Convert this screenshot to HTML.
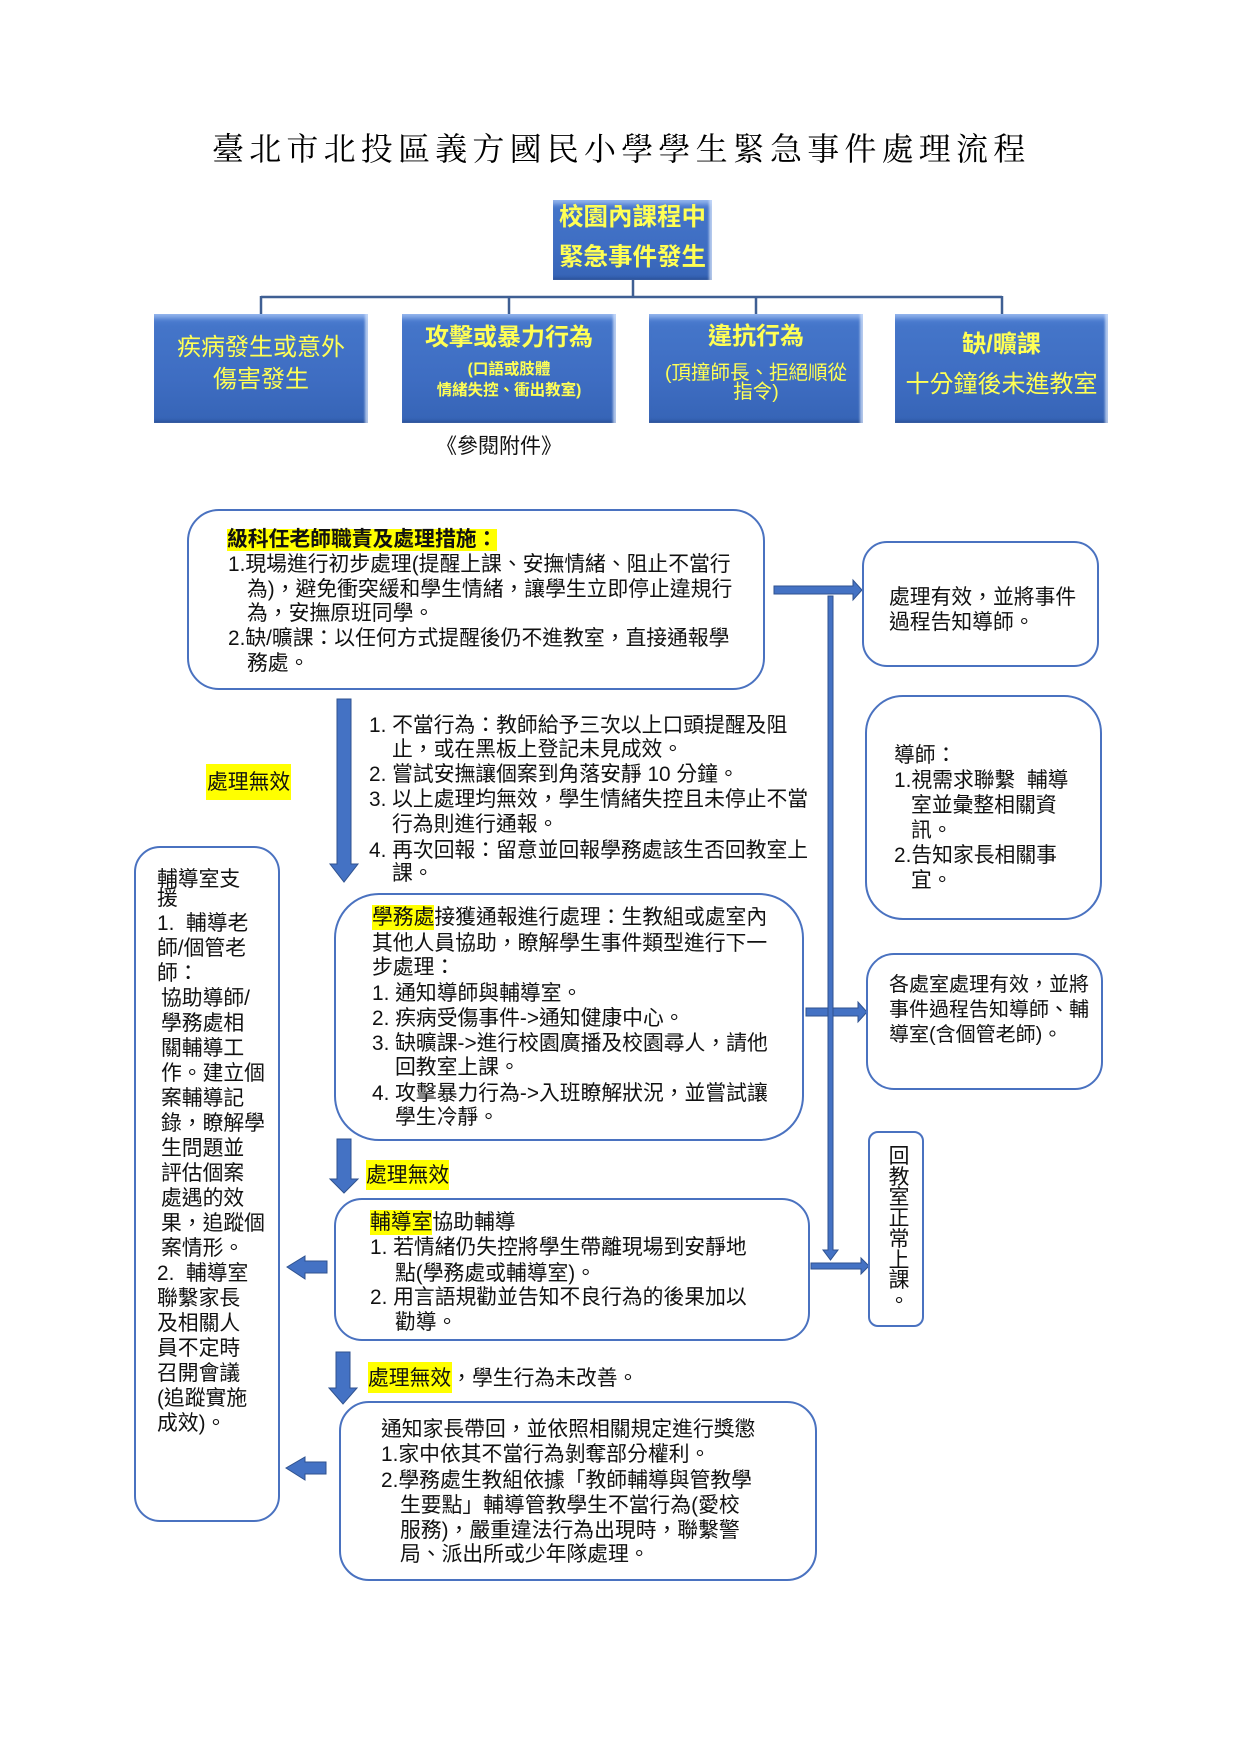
<!DOCTYPE html>
<html><head><meta charset="utf-8">
<style>
html,body{margin:0;padding:0;background:#fff;}
#pg{position:relative;width:1241px;height:1755px;overflow:hidden;background:#fff;}
.t{position:absolute;white-space:nowrap;font-family:"Liberation Sans","Noto Sans CJK TC",sans-serif;font-size:20.8px;line-height:25px;color:#111;}
.rb{position:absolute;box-sizing:border-box;border:2px solid #4a72c0;background:#fff;}
.cb{position:absolute;box-sizing:border-box;background:linear-gradient(#4f80d4 0%,#4475c9 12%,#3e6dc2 60%,#3664b6 100%);box-shadow:inset 0 7px 5px -3px rgba(200,220,255,0.55),inset -4px 0 2px -1px rgba(230,240,255,0.7),inset 0 -4px 3px -2px rgba(20,40,90,0.35);}
.ct{position:absolute;left:0;right:0;text-align:center;white-space:nowrap;font-family:"Liberation Sans","Noto Sans CJK TC",sans-serif;color:#ffff55;}
.hl{background:#ffff00;display:inline-block;line-height:25px;height:25px;}
</style></head><body><div id="pg">

<div class="t" style="left:212px;top:129px;font-family:'Liberation Serif','Noto Serif CJK SC',serif;font-size:32px;line-height:40px;letter-spacing:5.2px;color:#000;">臺北市北投區義方國民小學學生緊急事件處理流程</div>

<svg width="1241" height="1755" style="position:absolute;left:0;top:0;" xmlns="http://www.w3.org/2000/svg">
 <g stroke="#3f5f93" stroke-width="2.5" fill="none">
  <line x1="633" y1="280" x2="633" y2="297"/>
  <line x1="261" y1="297" x2="1002" y2="297"/>
  <line x1="261" y1="296" x2="261" y2="314"/>
  <line x1="509" y1="296" x2="509" y2="314"/>
  <line x1="756" y1="296" x2="756" y2="314"/>
  <line x1="1002" y1="296" x2="1002" y2="314"/>
 </g>
 <g fill="#4472c4" stroke="#2f528f" stroke-width="1">
  <polygon points="337,699 351,699 351,864 358,864 344,882 330,864 337,864"/>
  <polygon points="337,1139 351,1139 351,1179 358,1179 344,1193 330,1179 337,1179"/>
  <polygon points="336,1352 350,1352 350,1388 357,1388 343,1404 329,1388 336,1388"/>
  <polygon points="327,1261 305,1261 305,1256 287,1267 305,1279 305,1273 327,1273"/>
  <polygon points="326,1462 305,1462 305,1457 286,1468 305,1480 305,1474 326,1474"/>
  <polygon points="774,586 853,586 853,580 862,590 853,600 853,594 774,594"/>
  <polygon points="806,1008 858,1008 858,1002 867,1012 858,1022 858,1016 806,1016"/>
  <polygon points="811,1263 861,1263 861,1258 869,1266 861,1274 861,1269 811,1269"/>
  <polygon points="828,596 833,596 833,1250 838,1250 830.5,1260 823,1250 828,1250"/>
 </g>
</svg>

<div class="cb" style="left:553px;top:200px;width:159px;height:80px;"></div>
<div class="ct" style="left:553px;width:159px;right:auto;top:203px;font-size:24.5px;line-height:30px;font-weight:bold;">校園內課程中</div>
<div class="ct" style="left:553px;width:159px;right:auto;top:243px;font-size:24.5px;line-height:30px;font-weight:bold;">緊急事件發生</div>

<div class="cb" style="left:154px;top:314px;width:214px;height:109px;"></div>
<div class="ct" style="left:154px;width:214px;right:auto;top:333px;font-size:24px;line-height:30px;">疾病發生或意外</div>
<div class="ct" style="left:154px;width:214px;right:auto;top:365px;font-size:24px;line-height:30px;">傷害發生</div>

<div class="cb" style="left:402px;top:314px;width:214px;height:109px;"></div>
<div class="ct" style="left:402px;width:214px;right:auto;top:323px;font-size:24px;line-height:30px;font-weight:bold;">攻擊或暴力行為</div>
<div class="ct" style="left:402px;width:214px;right:auto;top:360px;font-size:15.5px;line-height:20px;font-weight:bold;">(口語或肢體</div>
<div class="ct" style="left:402px;width:214px;right:auto;top:381px;font-size:15.5px;line-height:20px;font-weight:bold;">情緒失控、衝出教室)</div>

<div class="cb" style="left:649px;top:314px;width:214px;height:109px;"></div>
<div class="ct" style="left:649px;width:214px;right:auto;top:322px;font-size:24px;line-height:30px;font-weight:bold;">違抗行為</div>
<div class="ct" style="left:649px;width:214px;right:auto;top:362px;font-size:19.5px;line-height:22px;">(頂撞師長、拒絕順從</div>
<div class="ct" style="left:649px;width:214px;right:auto;top:381px;font-size:19.5px;line-height:22px;">指令)</div>

<div class="cb" style="left:895px;top:314px;width:213px;height:109px;"></div>
<div class="ct" style="left:895px;width:213px;right:auto;top:330px;font-size:24px;line-height:30px;font-weight:bold;">缺/曠課</div>
<div class="ct" style="left:895px;width:213px;right:auto;top:370px;font-size:24px;line-height:30px;">十分鐘後未進教室</div>

<div class="t" style="left:436px;top:434px;font-size:21px;line-height:26px;">《參閱附件》</div>

<div class="rb" style="left:187px;top:509px;width:578px;height:181px;border-radius:32px;"></div>
<div class="rb" style="left:862px;top:541px;width:237px;height:126px;border-radius:25px;"></div>
<div class="rb" style="left:865px;top:695px;width:237px;height:225px;border-radius:38px;"></div>
<div class="rb" style="left:866px;top:953px;width:237px;height:137px;border-radius:28px;"></div>
<div class="rb" style="left:868px;top:1131px;width:56px;height:196px;border-radius:10px;"></div>
<div class="rb" style="left:134px;top:846px;width:146px;height:676px;border-radius:26px;"></div>
<div class="rb" style="left:334px;top:893px;width:470px;height:248px;border-radius:45px;"></div>
<div class="rb" style="left:334px;top:1198px;width:476px;height:143px;border-radius:28px;"></div>
<div class="rb" style="left:339px;top:1401px;width:478px;height:180px;border-radius:30px;"></div>

<div class="t" style="left:227px;top:527px;font-weight:bold;"><span class="hl" style="height:22px;line-height:22px;">級科任老師職責及處理措施：</span></div>
<div class="t" style="left:228px;top:551.5px;">1.現場進行初步處理(提醒上課、安撫情緒、阻止不當行</div>
<div class="t" style="left:247px;top:576.5px;">為)，避免衝突緩和學生情緒，讓學生立即停止違規行</div>
<div class="t" style="left:247px;top:600.5px;">為，安撫原班同學。</div>
<div class="t" style="left:228px;top:625.5px;">2.缺/曠課：以任何方式提醒後仍不進教室，直接通報學</div>
<div class="t" style="left:247px;top:650.5px;">務處。</div>

<div class="t" style="left:889px;top:584.5px;">處理有效，並將事件</div>
<div class="t" style="left:889px;top:609.5px;">過程告知導師。</div>

<div class="t" style="left:894px;top:742.5px;">導師：</div>
<div class="t" style="left:894px;top:767.5px;">1.視需求聯繫&nbsp;&nbsp;輔導</div>
<div class="t" style="left:911px;top:792.5px;">室並彙整相關資</div>
<div class="t" style="left:911px;top:817.5px;">訊。</div>
<div class="t" style="left:894px;top:842.5px;">2.告知家長相關事</div>
<div class="t" style="left:911px;top:867.5px;">宜。</div>

<div class="t" style="left:889px;top:972.5px;font-size:20px;">各處室處理有效，並將</div>
<div class="t" style="left:889px;top:997.5px;font-size:20px;">事件過程告知導師、輔</div>
<div class="t" style="left:889px;top:1022.5px;font-size:20px;">導室(含個管老師)。</div>

<div class="t" style="left:868px;top:1147px;width:62px;text-align:center;line-height:20.7px;">回<br>教<br>室<br>正<br>常<br>上<br>課<br>。</div>

<div class="hl" style="position:absolute;left:206px;top:764px;width:85px;height:36px;"></div>
<div class="t" style="left:207px;top:769.5px;">處理無效</div>

<div class="t" style="left:369px;top:712.5px;">1. 不當行為：教師給予三次以上口頭提醒及阻</div>
<div class="t" style="left:392px;top:736.5px;">止，或在黑板上登記未見成效。</div>
<div class="t" style="left:369px;top:761.5px;">2. 嘗試安撫讓個案到角落安靜 10 分鐘。</div>
<div class="t" style="left:369px;top:786.5px;">3. 以上處理均無效，學生情緒失控且未停止不當</div>
<div class="t" style="left:392px;top:811.5px;">行為則進行通報。</div>
<div class="t" style="left:369px;top:837.5px;">4. 再次回報：留意並回報學務處該生否回教室上</div>
<div class="t" style="left:392px;top:860.5px;">課。</div>

<div class="t" style="left:157px;top:866.5px;">輔導室支</div>
<div class="t" style="left:157px;top:885.5px;">援</div>
<div class="t" style="left:157px;top:910.5px;">1.&nbsp;&nbsp;輔導老</div>
<div class="t" style="left:157px;top:935.5px;">師/個管老</div>
<div class="t" style="left:157px;top:960.5px;">師：</div>
<div class="t" style="left:161px;top:985.5px;">協助導師/</div>
<div class="t" style="left:161px;top:1010.5px;">學務處相</div>
<div class="t" style="left:161px;top:1035.5px;">關輔導工</div>
<div class="t" style="left:161px;top:1060.5px;">作。建立個</div>
<div class="t" style="left:161px;top:1085.5px;">案輔導記</div>
<div class="t" style="left:161px;top:1110.5px;">錄，瞭解學</div>
<div class="t" style="left:161px;top:1135.5px;">生問題並</div>
<div class="t" style="left:161px;top:1160.5px;">評估個案</div>
<div class="t" style="left:161px;top:1185.5px;">處遇的效</div>
<div class="t" style="left:161px;top:1210.5px;">果，追蹤個</div>
<div class="t" style="left:161px;top:1235.5px;">案情形。</div>
<div class="t" style="left:157px;top:1260.5px;">2.&nbsp;&nbsp;輔導室</div>
<div class="t" style="left:157px;top:1285.5px;">聯繫家長</div>
<div class="t" style="left:157px;top:1310.5px;">及相關人</div>
<div class="t" style="left:157px;top:1335.5px;">員不定時</div>
<div class="t" style="left:157px;top:1360.5px;">召開會議</div>
<div class="t" style="left:157px;top:1385.5px;">(追蹤實施</div>
<div class="t" style="left:157px;top:1410.5px;">成效)。</div>

<div class="t" style="left:372px;top:904.5px;"><span class="hl">學務處</span>接獲通報進行處理：生教組或處室內</div>
<div class="t" style="left:372px;top:930.5px;">其他人員協助，瞭解學生事件類型進行下一</div>
<div class="t" style="left:372px;top:954.5px;">步處理：</div>
<div class="t" style="left:372px;top:980.5px;">1. 通知導師與輔導室。</div>
<div class="t" style="left:372px;top:1005.5px;">2. 疾病受傷事件-&gt;通知健康中心。</div>
<div class="t" style="left:372px;top:1030.5px;">3. 缺曠課-&gt;進行校園廣播及校園尋人，請他</div>
<div class="t" style="left:395px;top:1054.5px;">回教室上課。</div>
<div class="t" style="left:372px;top:1080.5px;">4. 攻擊暴力行為-&gt;入班瞭解狀況，並嘗試讓</div>
<div class="t" style="left:395px;top:1104.5px;">學生冷靜。</div>

<div class="hl" style="position:absolute;left:366px;top:1160px;width:83px;height:30px;"></div>
<div class="t" style="left:366px;top:1162.5px;">處理無效</div>

<div class="t" style="left:370px;top:1209.5px;"><span class="hl">輔導室</span>協助輔導</div>
<div class="t" style="left:370px;top:1234.5px;">1. 若情緒仍失控將學生帶離現場到安靜地</div>
<div class="t" style="left:395px;top:1260.5px;">點(學務處或輔導室)。</div>
<div class="t" style="left:370px;top:1284.5px;">2. 用言語規勸並告知不良行為的後果加以</div>
<div class="t" style="left:395px;top:1309.5px;">勸導。</div>

<div class="hl" style="position:absolute;left:368px;top:1362px;width:84px;height:31px;"></div>
<div class="t" style="left:368px;top:1365.5px;">處理無效，學生行為未改善。</div>

<div class="t" style="left:381px;top:1416.5px;">通知家長帶回，並依照相關規定進行獎懲</div>
<div class="t" style="left:381px;top:1441.5px;">1.家中依其不當行為剝奪部分權利。</div>
<div class="t" style="left:381px;top:1467.5px;">2.學務處生教組依據「教師輔導與管教學</div>
<div class="t" style="left:400px;top:1492.5px;">生要點」輔導管教學生不當行為(愛校</div>
<div class="t" style="left:400px;top:1517.5px;">服務)，嚴重違法行為出現時，聯繫警</div>
<div class="t" style="left:400px;top:1541.5px;">局、派出所或少年隊處理。</div>

</div></body></html>
